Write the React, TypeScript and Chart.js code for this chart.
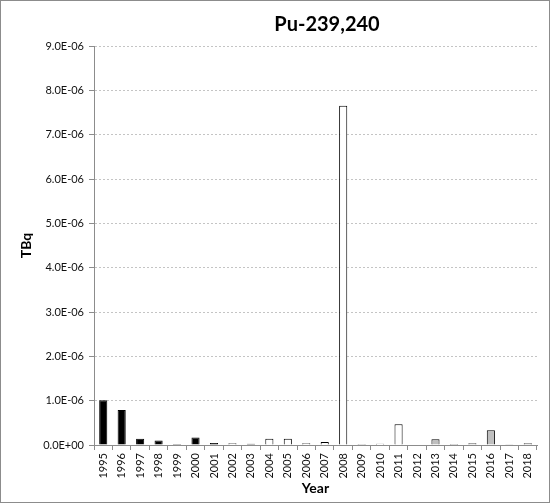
import React, { useEffect, useRef } from 'react';
import { Chart, registerables } from 'chart.js';

Chart.register(...registerables);

// Pu-239,240 discharges per year (TBq)
const years = [
  '1995', '1996', '1997', '1998', '1999', '2000', '2001', '2002',
  '2003', '2004', '2005', '2006', '2007', '2008', '2009', '2010',
  '2011', '2012', '2013', '2014', '2015', '2016', '2017', '2018',
];

const values: (number | null)[] = [
  1.01e-6, 0.79e-6, 0.14e-6, 0.10e-6, 0.02e-6, 0.17e-6, 0.045e-6, 0.04e-6,
  0.03e-6, 0.14e-6, 0.14e-6, 0.04e-6, 0.07e-6, 7.65e-6, 0.02e-6, 0.03e-6,
  0.47e-6, null, 0.13e-6, 0.02e-6, 0.04e-6, 0.33e-6, 0.015e-6, 0.04e-6,
];

// which reporting period each year belongs to (decides bar fill)
const periods = [
  'A', 'A', 'A', 'A', 'A', 'A', 'A', 'B',
  'A', 'B', 'B', 'B', 'B', 'B', 'B', 'B',
  'B', 'B', 'C', 'C', 'C', 'C', 'C', 'C',
];

const yMin = 0;
const yMax = 9e-6;
const yStep = 1e-6;

const chartTitle = 'Pu-239,240';
const yTitle = 'TBq';
const xTitle = 'Year';

const FONT = 'Lato, "Open Sans", sans-serif';

const periodFill: Record<string, string> = {
  A: '#000000',
  B: '#ffffff',
  C: '#bfbfbf',
};

function sci(v: number) {
  const [m, e] = v.toExponential(1).split('e');
  const n = parseInt(e, 10);
  const sign = n < 0 ? '-' : '+';
  return `${m}E${sign}${String(Math.abs(n)).padStart(2, '0')}`;
}

// title is centred over x=327 in the original, not over the canvas
const titlePlugin = {
  id: 'customTitle',
  afterDraw(chart: Chart) {
    const ctx = chart.ctx;
    ctx.save();
    ctx.font = `bold 20px ${FONT}`;
    ctx.fillStyle = '#000';
    ctx.textAlign = 'center';
    ctx.textBaseline = 'alphabetic';
    ctx.fillText(chartTitle, 327, 31);
    ctx.strokeStyle = '#8c8c8c';
    ctx.lineWidth = 1;
    ctx.strokeRect(0.5, 0.5, 549, 502);
    ctx.restore();
  },
};

export default function App() {
  const chartRef = useRef<HTMLCanvasElement>(null);
  const chartInstance = useRef<Chart | null>(null);

  useEffect(() => {
    document.body.style.margin = '0';
    if (!chartRef.current) return;
    if (chartInstance.current) chartInstance.current.destroy();

    const ctx = chartRef.current.getContext('2d');
    if (!ctx) return;

    chartInstance.current = new Chart(ctx, {
      type: 'bar',
      data: {
        labels: years,
        datasets: [
          {
            label: chartTitle,
            data: values,
            backgroundColor: periods.map((p) => periodFill[p]),
            borderColor: '#000',
            borderWidth: 1,
            borderSkipped: 'bottom',
            categoryPercentage: 1,
            barPercentage: 0.44,
          },
        ],
      },
      options: {
        responsive: false,
        animation: false,
        layout: { padding: { top: 46, right: 13, left: 0, bottom: 0 } },
        plugins: {
          legend: { display: false },
          title: { display: false },
          tooltip: { enabled: false },
        },
        scales: {
          x: {
            offset: true,
            grid: {
              offset: true,
              drawOnChartArea: false,
              drawTicks: true,
              tickLength: 5,
              tickColor: '#8c8c8c',
            },
            border: { color: '#8c8c8c', width: 1 },
            ticks: {
              autoSkip: false,
              minRotation: 90,
              maxRotation: 90,
              padding: 3,
              color: '#111',
              font: { family: FONT, size: 11 },
            },
            title: {
              display: true,
              text: xTitle,
              color: '#000',
              font: { family: FONT, size: 14, weight: 'bold' },
              padding: { top: 0, bottom: 7 },
            },
            afterFit(scale: any) {
              scale.height = 59;
            },
          },
          y: {
            min: yMin,
            max: yMax,
            grid: {
              color: '#c4c4c4',
              tickColor: '#8c8c8c',
              tickLength: 5,
              drawTicks: true,
            },
            border: { color: '#8c8c8c', width: 1, dash: [2, 2] },
            ticks: {
              stepSize: yStep,
              padding: 5,
              color: '#111',
              font: { family: FONT, size: 11 },
              callback: (v: any) => sci(Number(v)),
            },
            title: {
              display: true,
              text: yTitle,
              color: '#000',
              font: { family: FONT, size: 14, weight: 'bold' },
              padding: { top: 18, bottom: 0 },
            },
            afterFit(scale: any) {
              scale.width = 94;
            },
          },
        },
      },
      plugins: [titlePlugin],
    });

    return () => {
      if (chartInstance.current) {
        chartInstance.current.destroy();
        chartInstance.current = null;
      }
    };
  }, []);

  return (
    <div style={{ width: 550, height: 504 }}>
      <canvas ref={chartRef} width={550} height={504} />
    </div>
  );
}
